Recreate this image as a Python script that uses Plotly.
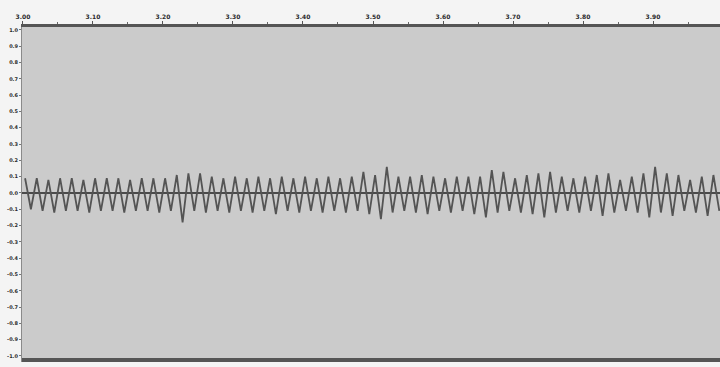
import plotly.graph_objects as go

# Extremum times (s) of the waveform: peaks and troughs
peak_times = [3.0030, 3.0197, 3.0363, 3.0530, 3.0697, 3.0863, 3.1030, 3.1197, 3.1363, 3.1530,
              3.1697, 3.1863, 3.2030, 3.2197, 3.2363, 3.2530, 3.2697, 3.2863, 3.3030, 3.3197,
              3.3363, 3.3530, 3.3697, 3.3863, 3.4030, 3.4197, 3.4363, 3.4530, 3.4697, 3.4863,
              3.5030, 3.5197, 3.5363, 3.5530, 3.5697, 3.5863, 3.6030, 3.6197, 3.6363, 3.6530,
              3.6697, 3.6863, 3.7030, 3.7197, 3.7363, 3.7530, 3.7697, 3.7863, 3.8030, 3.8197,
              3.8363, 3.8530, 3.8697, 3.8863, 3.9030, 3.9197, 3.9363, 3.9530, 3.9697, 3.9863]
peak_values = [0.09, 0.09, 0.08, 0.09, 0.09, 0.08, 0.09, 0.09, 0.09, 0.08,
               0.09, 0.09, 0.09, 0.11, 0.12, 0.12, 0.10, 0.09, 0.10, 0.09,
               0.10, 0.09, 0.10, 0.09, 0.10, 0.09, 0.10, 0.09, 0.10, 0.13,
               0.11, 0.16, 0.10, 0.10, 0.11, 0.10, 0.09, 0.10, 0.10, 0.10,
               0.14, 0.13, 0.09, 0.11, 0.12, 0.13, 0.10, 0.09, 0.10, 0.11,
               0.12, 0.08, 0.10, 0.12, 0.16, 0.12, 0.11, 0.08, 0.10, 0.11]
trough_times = [3.0113, 3.0280, 3.0447, 3.0613, 3.0780, 3.0947, 3.1113, 3.1280, 3.1447, 3.1613,
                3.1780, 3.1947, 3.2113, 3.2280, 3.2447, 3.2613, 3.2780, 3.2947, 3.3113, 3.3280,
                3.3447, 3.3613, 3.3780, 3.3947, 3.4113, 3.4280, 3.4447, 3.4613, 3.4780, 3.4947,
                3.5113, 3.5280, 3.5447, 3.5613, 3.5780, 3.5947, 3.6113, 3.6280, 3.6447, 3.6613,
                3.6780, 3.6947, 3.7113, 3.7280, 3.7447, 3.7613, 3.7780, 3.7947, 3.8113, 3.8280,
                3.8447, 3.8613, 3.8780, 3.8947, 3.9113, 3.9280, 3.9447, 3.9613, 3.9780, 3.9947]
trough_values = [-0.10, -0.11, -0.12, -0.11, -0.11, -0.12, -0.11, -0.11, -0.12, -0.11,
                 -0.11, -0.12, -0.11, -0.18, -0.11, -0.12, -0.11, -0.12, -0.11, -0.12,
                 -0.11, -0.13, -0.11, -0.12, -0.11, -0.12, -0.11, -0.12, -0.11, -0.13,
                 -0.16, -0.12, -0.11, -0.12, -0.13, -0.11, -0.12, -0.11, -0.13, -0.15,
                 -0.12, -0.11, -0.12, -0.13, -0.15, -0.12, -0.11, -0.12, -0.11, -0.14,
                 -0.12, -0.11, -0.12, -0.15, -0.12, -0.14, -0.11, -0.12, -0.14, -0.11]

x_tick_vals = [3.00, 3.10, 3.20, 3.30, 3.40, 3.50, 3.60, 3.70, 3.80, 3.90]
x_tick_text = ["3.00", "3.10", "3.20", "3.30", "3.40", "3.50", "3.60", "3.70", "3.80", "3.90"]
y_tick_vals = [1.0, 0.9, 0.8, 0.7, 0.6, 0.5, 0.4, 0.3, 0.2, 0.1, 0.0,
               -0.1, -0.2, -0.3, -0.4, -0.5, -0.6, -0.7, -0.8, -0.9, -1.0]
y_tick_text = ["1.0", "0.9", "0.8", "0.7", "0.6", "0.5", "0.4", "0.3", "0.2", "0.1", "0.0",
               "-0.1", "-0.2", "-0.3", "-0.4", "-0.5", "-0.6", "-0.7", "-0.8", "-0.9", "-1.0"]

# interleave peaks and troughs in time order
t = []
v = []
for pt, pv, tt, tv in zip(peak_times, peak_values, trough_times, trough_values):
    t += [pt, tt]
    v += [pv, tv]

fig = go.Figure()
fig.add_trace(go.Scatter(x=t, y=v, mode="lines",
                         line=dict(color="#545454", width=1.8), hoverinfo="skip"))

fig.update_layout(
    width=720, height=367,
    margin=dict(l=22, r=0, t=27, b=5),
    paper_bgcolor="#f4f4f4",
    plot_bgcolor="#cbcbcb",
    showlegend=False,
    font=dict(family="DejaVu Sans", size=6, color="#2a2a2a"),
    xaxis=dict(side="top", range=[2.9986, 3.9957], tickvals=x_tick_vals, ticktext=x_tick_text,
               showgrid=False, zeroline=False, showline=True, linecolor="#555555", linewidth=3,
               ticks="outside", ticklen=3, tickcolor="#555555",
               minor=dict(ticks="outside", ticklen=2, dtick=0.05, tickcolor="#666666"),
               tickfont=dict(size=6, family="DejaVu Sans", color="#2a2a2a", weight="bold")),
    yaxis=dict(range=[-1.037, 1.018], tickvals=y_tick_vals, ticktext=y_tick_text,
               showgrid=False, zeroline=True, zerolinecolor="#4a4a4a", zerolinewidth=2,
               showline=True, linecolor="#8a8a8a", linewidth=1,
               ticks="outside", ticklen=2, tickcolor="#777777",
               tickfont=dict(size=5, family="DejaVu Sans", color="#2a2a2a", weight="bold")),
    shapes=[dict(type="rect", xref="paper", yref="paper", x0=0, x1=1, y0=0, y1=0.012,
                 fillcolor="#555555", line=dict(width=0), layer="above")],
)

fig.write_html("out.html")
